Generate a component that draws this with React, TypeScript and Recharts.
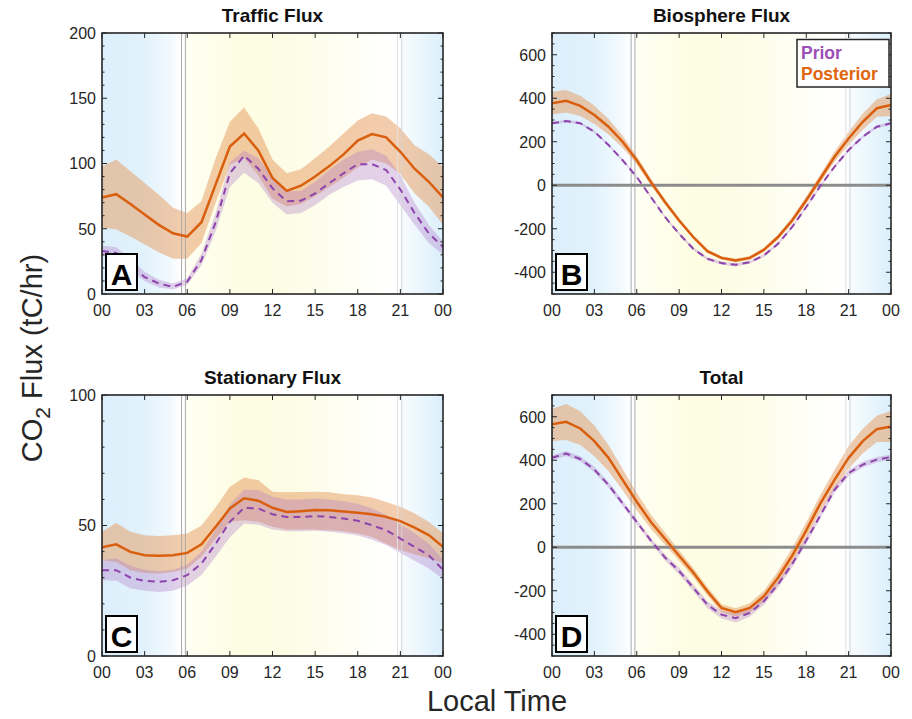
import React from "react";
import { Area, CartesianGrid, ComposedChart, Line, ReferenceLine, XAxis, YAxis } from "recharts";

const FONT = '"Liberation Sans", Arial, Helvetica, sans-serif';
const INK = "#262626";
const ORANGE = "#d95f0e";
const PURPLE = "#8e44ad";

const HOURS = [0, 1, 2, 3, 4, 5, 6, 7, 8, 9, 10, 11, 12, 13, 14, 15, 16, 17, 18, 19, 20, 21, 22, 23, 24];
const X_TICKS = [0, 3, 6, 9, 12, 15, 18, 21, 24];
const X_LABELS = ["00", "03", "06", "09", "12", "15", "18", "21", "00"];

// Traffic flux (A)
const postA = [74, 76.5, 69, 61, 53, 46.5, 44, 55, 84, 113, 123, 110, 89, 79, 83, 90, 98, 107, 117.5, 122.5, 120, 109, 96, 86, 74];
const postA_hi = [97.5, 103, 94, 85, 76, 66, 62, 71, 104, 132, 143, 127, 103, 92.5, 95.5, 104, 113, 123, 133, 138.5, 136, 127, 114, 107, 97.5];
const postA_lo = [51, 49.5, 44, 38, 32, 27, 27, 39, 70, 99, 104, 91, 73, 67, 69, 75, 82, 89, 97, 103, 100, 92, 77, 67, 53];
const priorA = [33, 31.5, 22, 13, 8, 5.5, 9.5, 26, 55, 92.5, 106, 96, 81, 71, 71.5, 77, 85, 92.5, 99.5, 99.5, 95, 80, 62, 46.5, 36];
const priorA_hi = [37, 36, 27, 17, 11, 8, 12, 31, 62, 101, 110, 104, 90, 79, 79, 86, 95, 103, 109, 111, 106, 91, 70, 53, 40];
const priorA_lo = [29, 27, 18, 10, 5, 3.5, 7, 22, 48, 82, 93, 85, 70, 61, 62, 68, 76, 82, 87, 88, 83, 68, 53, 39, 30];

// Biosphere flux (B)
const postB = [377, 388, 365, 323, 269, 200, 115, 15, -77, -162, -238, -303, -334, -346, -334, -297, -238, -162, -69, 31, 131, 215, 292, 354, 369];
const postB_hi = [430, 438, 412, 365, 305, 228, 135, 30, -65, -152, -229, -295, -326, -337, -325, -287, -226, -148, -52, 50, 155, 245, 330, 395, 420];
const postB_lo = [325, 335, 318, 282, 233, 172, 95, 0, -89, -172, -247, -311, -342, -355, -343, -307, -250, -176, -86, 12, 108, 185, 255, 315, 318];
const priorB = [285, 295, 285, 246, 185, 115, 38, -54, -146, -223, -292, -338, -358, -366, -354, -323, -269, -192, -100, -3, 85, 162, 223, 269, 285];
const priorB_hi = [291, 301, 291, 252, 191, 121, 44, -48, -140, -216, -285, -331, -351, -359, -347, -316, -262, -185, -93, 4, 92, 169, 230, 276, 292];
const priorB_lo = [279, 289, 279, 240, 179, 109, 32, -60, -152, -230, -299, -345, -365, -373, -361, -330, -276, -199, -107, -10, 78, 155, 216, 262, 278];

// Stationary flux (C)
const postC = [41.7, 42.8, 39.9, 38.6, 38.4, 38.6, 39.5, 42.8, 49.5, 56.5, 60.4, 59.5, 56.8, 55.2, 55.5, 55.9, 55.8, 55.4, 54.9, 54.3, 53.3, 51.7, 49.2, 46.3, 41.8];
const postC_hi = [47.6, 51, 47.6, 46.3, 46, 46.3, 46.9, 50, 57, 64.8, 68.4, 67.4, 62.9, 62.7, 62.8, 62.9, 62.7, 62, 61.6, 60.7, 59, 57.2, 54.6, 51.4, 47];
const postC_lo = [36.7, 36, 32.9, 31.8, 31.6, 32.2, 33.5, 38, 45, 51.4, 52, 51.4, 49.5, 48.5, 48.5, 48.5, 48.2, 47.8, 46.9, 45.6, 43, 40.5, 39, 37.5, 35.5];
const priorC = [32.9, 32.9, 30, 28.8, 28.4, 29, 31, 35.4, 43, 51.4, 56.8, 56.5, 54.3, 53.3, 53.3, 53.6, 53.3, 52.7, 51.8, 50.1, 48.2, 45, 41.8, 38.6, 33.1];
const priorC_hi = [36.7, 37.5, 34.5, 33, 32.5, 33, 35, 40, 48.5, 58, 63.8, 63.5, 61, 60, 60, 60.3, 60, 59.3, 58.3, 56.5, 54, 50.5, 47, 43, 37];
const priorC_lo = [29, 28.8, 26, 25, 24.5, 25, 27, 31, 38, 45.5, 50.8, 50.3, 48.5, 47.8, 47.8, 48, 47.6, 47, 46.2, 44.5, 42.5, 39.5, 36.5, 33.5, 29.5];

// Total (D)
const postD = [566, 577, 546, 488, 411, 310, 209, 116, 39, -39, -116, -202, -279, -299, -279, -225, -140, -39, 78, 202, 310, 411, 488, 543, 555];
const postD_hi = [636, 659, 625, 560, 470, 360, 250, 150, 68, -15, -95, -183, -262, -280, -258, -200, -110, -5, 115, 240, 355, 465, 545, 605, 628];
const postD_lo = [488, 493, 470, 418, 350, 262, 170, 85, 12, -62, -137, -222, -298, -318, -300, -250, -170, -72, 42, 165, 268, 360, 432, 484, 484];
const priorD = [411, 431, 406, 357, 287, 202, 116, 31, -47, -109, -186, -264, -310, -326, -302, -248, -171, -78, 31, 147, 264, 341, 380, 403, 415];
const priorD_hi = [422, 442, 418, 370, 300, 215, 128, 43, -33, -93, -170, -248, -292, -306, -284, -232, -156, -63, 46, 162, 279, 355, 393, 415, 426];
const priorD_lo = [400, 420, 394, 344, 274, 189, 104, 19, -61, -125, -202, -280, -328, -346, -320, -264, -186, -93, 16, 132, 249, 327, 367, 391, 404];

const TICKS_A = [0, 50, 100, 150, 200];
const TICKS_BD = [-400, -200, 0, 200, 400, 600];
const TICKS_C = [0, 50, 100];

function makeRows(post: number[], postLo: number[], postHi: number[], prior: number[], priorLo: number[], priorHi: number[]) {
  return HOURS.map((h, i) => ({
    h,
    post: post[i],
    postBand: [postLo[i], postHi[i]],
    prior: prior[i],
    priorBand: [priorLo[i], priorHi[i]],
  }));
}

function range(from: number, to: number, step: number) {
  const out: number[] = [];
  for (let v = from; v <= to + 1e-9; v += step) out.push(v);
  return out;
}

type Geo = { x: number; y: number; w: number; h: number };

const PAD_L = 60;
const PAD_T = 10;

function Panel({
  id,
  g,
  rows,
  domain,
  majors,
  minorStep,
  zero,
}: {
  id: string;
  g: Geo;
  rows: any[];
  domain: [number, number];
  majors: number[];
  minorStep: number;
  zero?: boolean;
}) {
  const L = PAD_L;
  const R = PAD_L + g.w;
  const T = PAD_T;
  const B = PAD_T + g.h;
  const yTicks = range(domain[0], domain[1], minorStep);

  const yTick = (p: any) => {
    const v = p.payload.value;
    const major = majors.includes(v);
    const len = major ? 5 : 2.5;
    return (
      <g key={`y${v}`}>
        <line x1={L} x2={L + len} y1={p.y} y2={p.y} stroke={INK} strokeWidth={1} />
        <line x1={R - len} x2={R} y1={p.y} y2={p.y} stroke={INK} strokeWidth={1} />
        {major ? (
          <text x={L - 6} y={p.y} dy="0.36em" textAnchor="end" fontSize={16} fill={INK} fontFamily={FONT}>
            {v}
          </text>
        ) : null}
      </g>
    );
  };

  const xTick = (p: any) => {
    const v = p.payload.value;
    return (
      <g key={`x${v}`}>
        <line x1={p.x} x2={p.x} y1={B} y2={B - 5} stroke={INK} strokeWidth={1} />
        <line x1={p.x} x2={p.x} y1={T} y2={T + 5} stroke={INK} strokeWidth={1} />
        <text x={p.x} y={B + 11} dy="0.71em" textAnchor="middle" fontSize={16} fill={INK} fontFamily={FONT}>
          {X_LABELS[X_TICKS.indexOf(v)]}
        </text>
      </g>
    );
  };

  return (
    <div style={{ position: "absolute", left: g.x - PAD_L, top: g.y - PAD_T }}>
      <ComposedChart
        width={g.w + PAD_L + 12}
        height={g.h + PAD_T + 30}
        data={rows}
        margin={{ top: PAD_T, right: 12, bottom: 0, left: 0 }}
      >
        <defs>
          <linearGradient id={`bg${id}`} x1="0" y1="0" x2="1" y2="0">
            <stop offset="0" stopColor="#ddeffb" />
            <stop offset="0.12" stopColor="#e1f2fc" />
            <stop offset="0.2" stopColor="#f1f9fe" />
            <stop offset="0.232" stopColor="#ffffff" />
            <stop offset="0.245" stopColor="#ffffff" />
            <stop offset="0.25" stopColor="#fffff3" />
            <stop offset="0.42" stopColor="#fdfde2" />
            <stop offset="0.58" stopColor="#fdfde8" />
            <stop offset="0.78" stopColor="#fffffa" />
            <stop offset="0.865" stopColor="#ffffff" />
            <stop offset="0.88" stopColor="#f8fcff" />
            <stop offset="1" stopColor="#dbeffb" />
          </linearGradient>
        </defs>
        <CartesianGrid horizontal={false} vertical={false} fill={`url(#bg${id})`} fillOpacity={1} />
        <XAxis
          dataKey="h"
          type="number"
          domain={[0, 24]}
          ticks={X_TICKS}
          interval={0}
          height={30}
          axisLine={false}
          tickLine={false}
          tick={xTick}
          allowDataOverflow
        />
        <YAxis
          type="number"
          domain={domain}
          ticks={yTicks}
          interval={0}
          width={PAD_L}
          axisLine={false}
          tickLine={false}
          tick={yTick}
          allowDataOverflow
        />
        <ReferenceLine x={5.6} stroke="#a8a8a8" strokeWidth={1} />
        <ReferenceLine x={5.87} stroke="#a8a8a8" strokeWidth={1} />
        <ReferenceLine x={20.8} stroke="#e2e2e2" strokeWidth={1} />
        <ReferenceLine x={21.1} stroke="#d4d4d4" strokeWidth={1} />
        {zero ? <ReferenceLine y={0} stroke="#8c8c8c" strokeWidth={3} /> : null}
        <Area
          dataKey="postBand"
          type="linear"
          stroke="none"
          fill="#e59a5c"
          fillOpacity={0.5}
          dot={false}
          activeDot={false}
          isAnimationActive={false}
        />
        <Area
          dataKey="priorBand"
          type="linear"
          stroke="none"
          fill="#b07cc6"
          fillOpacity={0.35}
          dot={false}
          activeDot={false}
          isAnimationActive={false}
        />
        <Line
          dataKey="prior"
          type="linear"
          stroke={PURPLE}
          strokeWidth={2}
          strokeDasharray="7 5"
          dot={false}
          activeDot={false}
          isAnimationActive={false}
        />
        <Line
          dataKey="post"
          type="linear"
          stroke={ORANGE}
          strokeWidth={2.5}
          dot={false}
          activeDot={false}
          isAnimationActive={false}
        />
      </ComposedChart>
    </div>
  );
}

const GEO_A: Geo = { x: 102, y: 33, w: 341, h: 261 };
const GEO_B: Geo = { x: 552, y: 33, w: 339, h: 261 };
const GEO_C: Geo = { x: 102, y: 395, w: 341, h: 261 };
const GEO_D: Geo = { x: 552, y: 395, w: 339, h: 261 };

const PANELS = [
  { id: "A", title: "Traffic Flux", g: GEO_A },
  { id: "B", title: "Biosphere Flux", g: GEO_B },
  { id: "C", title: "Stationary Flux", g: GEO_C },
  { id: "D", title: "Total", g: GEO_D },
];

export default function App() {
  const rowsA = makeRows(postA, postA_lo, postA_hi, priorA, priorA_lo, priorA_hi);
  const rowsB = makeRows(postB, postB_lo, postB_hi, priorB, priorB_lo, priorB_hi);
  const rowsC = makeRows(postC, postC_lo, postC_hi, priorC, priorC_lo, priorC_hi);
  const rowsD = makeRows(postD, postD_lo, postD_hi, priorD, priorD_lo, priorD_hi);

  return (
    <div style={{ position: "absolute", left: 0, top: 0, width: 912, height: 719, background: "#fff", fontFamily: FONT }}>
      <Panel id="A" g={GEO_A} rows={rowsA} domain={[0, 200]} majors={TICKS_A} minorStep={10} />
      <Panel id="B" g={GEO_B} rows={rowsB} domain={[-500, 700]} majors={TICKS_BD} minorStep={50} zero />
      <Panel id="C" g={GEO_C} rows={rowsC} domain={[0, 100]} majors={TICKS_C} minorStep={10} />
      <Panel id="D" g={GEO_D} rows={rowsD} domain={[-500, 700]} majors={TICKS_BD} minorStep={50} zero />

      <svg width={912} height={719} style={{ position: "absolute", left: 0, top: 0, pointerEvents: "none" }}>
        {PANELS.map(({ id, title, g }) => (
          <g key={id}>
            <rect x={g.x} y={g.y} width={g.w} height={g.h} fill="none" stroke={INK} strokeWidth={1.6} />
            <text x={g.x + g.w / 2} y={g.y - 11} textAnchor="middle" fontSize={19} fontWeight="bold" fill="#111" fontFamily={FONT}>
              {title}
            </text>
            <rect x={g.x + 4} y={g.y + g.h - 40} width={31} height={36} fill="#fff" stroke="#000" strokeWidth={2} />
            <text x={g.x + 19.5} y={g.y + g.h - 9} textAnchor="middle" fontSize={30} fontWeight="bold" fill="#000" fontFamily={FONT}>
              {id}
            </text>
          </g>
        ))}
        <rect x={797} y={39.5} width={92} height={47.5} fill="#fff" stroke={INK} strokeWidth={1.5} />
        <text x={801} y={58.5} fontSize={17.5} fontWeight="bold" fill="#9b4fb5" fontFamily={FONT}>
          Prior
        </text>
        <text x={801} y={80} fontSize={17.5} fontWeight="bold" fill="#e0650f" fontFamily={FONT}>
          Posterior
        </text>
        <text x={42} y={358} transform="rotate(-90 42 358)" textAnchor="middle" fontSize={29} fill={INK} fontFamily={FONT}>
          <tspan>CO</tspan>
          <tspan dy={8} fontSize={21}>2</tspan>
          <tspan dy={-8}> Flux (tC/hr)</tspan>
        </text>
        <text x={497} y={711} textAnchor="middle" fontSize={29} fill={INK} fontFamily={FONT}>
          Local Time
        </text>
      </svg>
    </div>
  );
}
